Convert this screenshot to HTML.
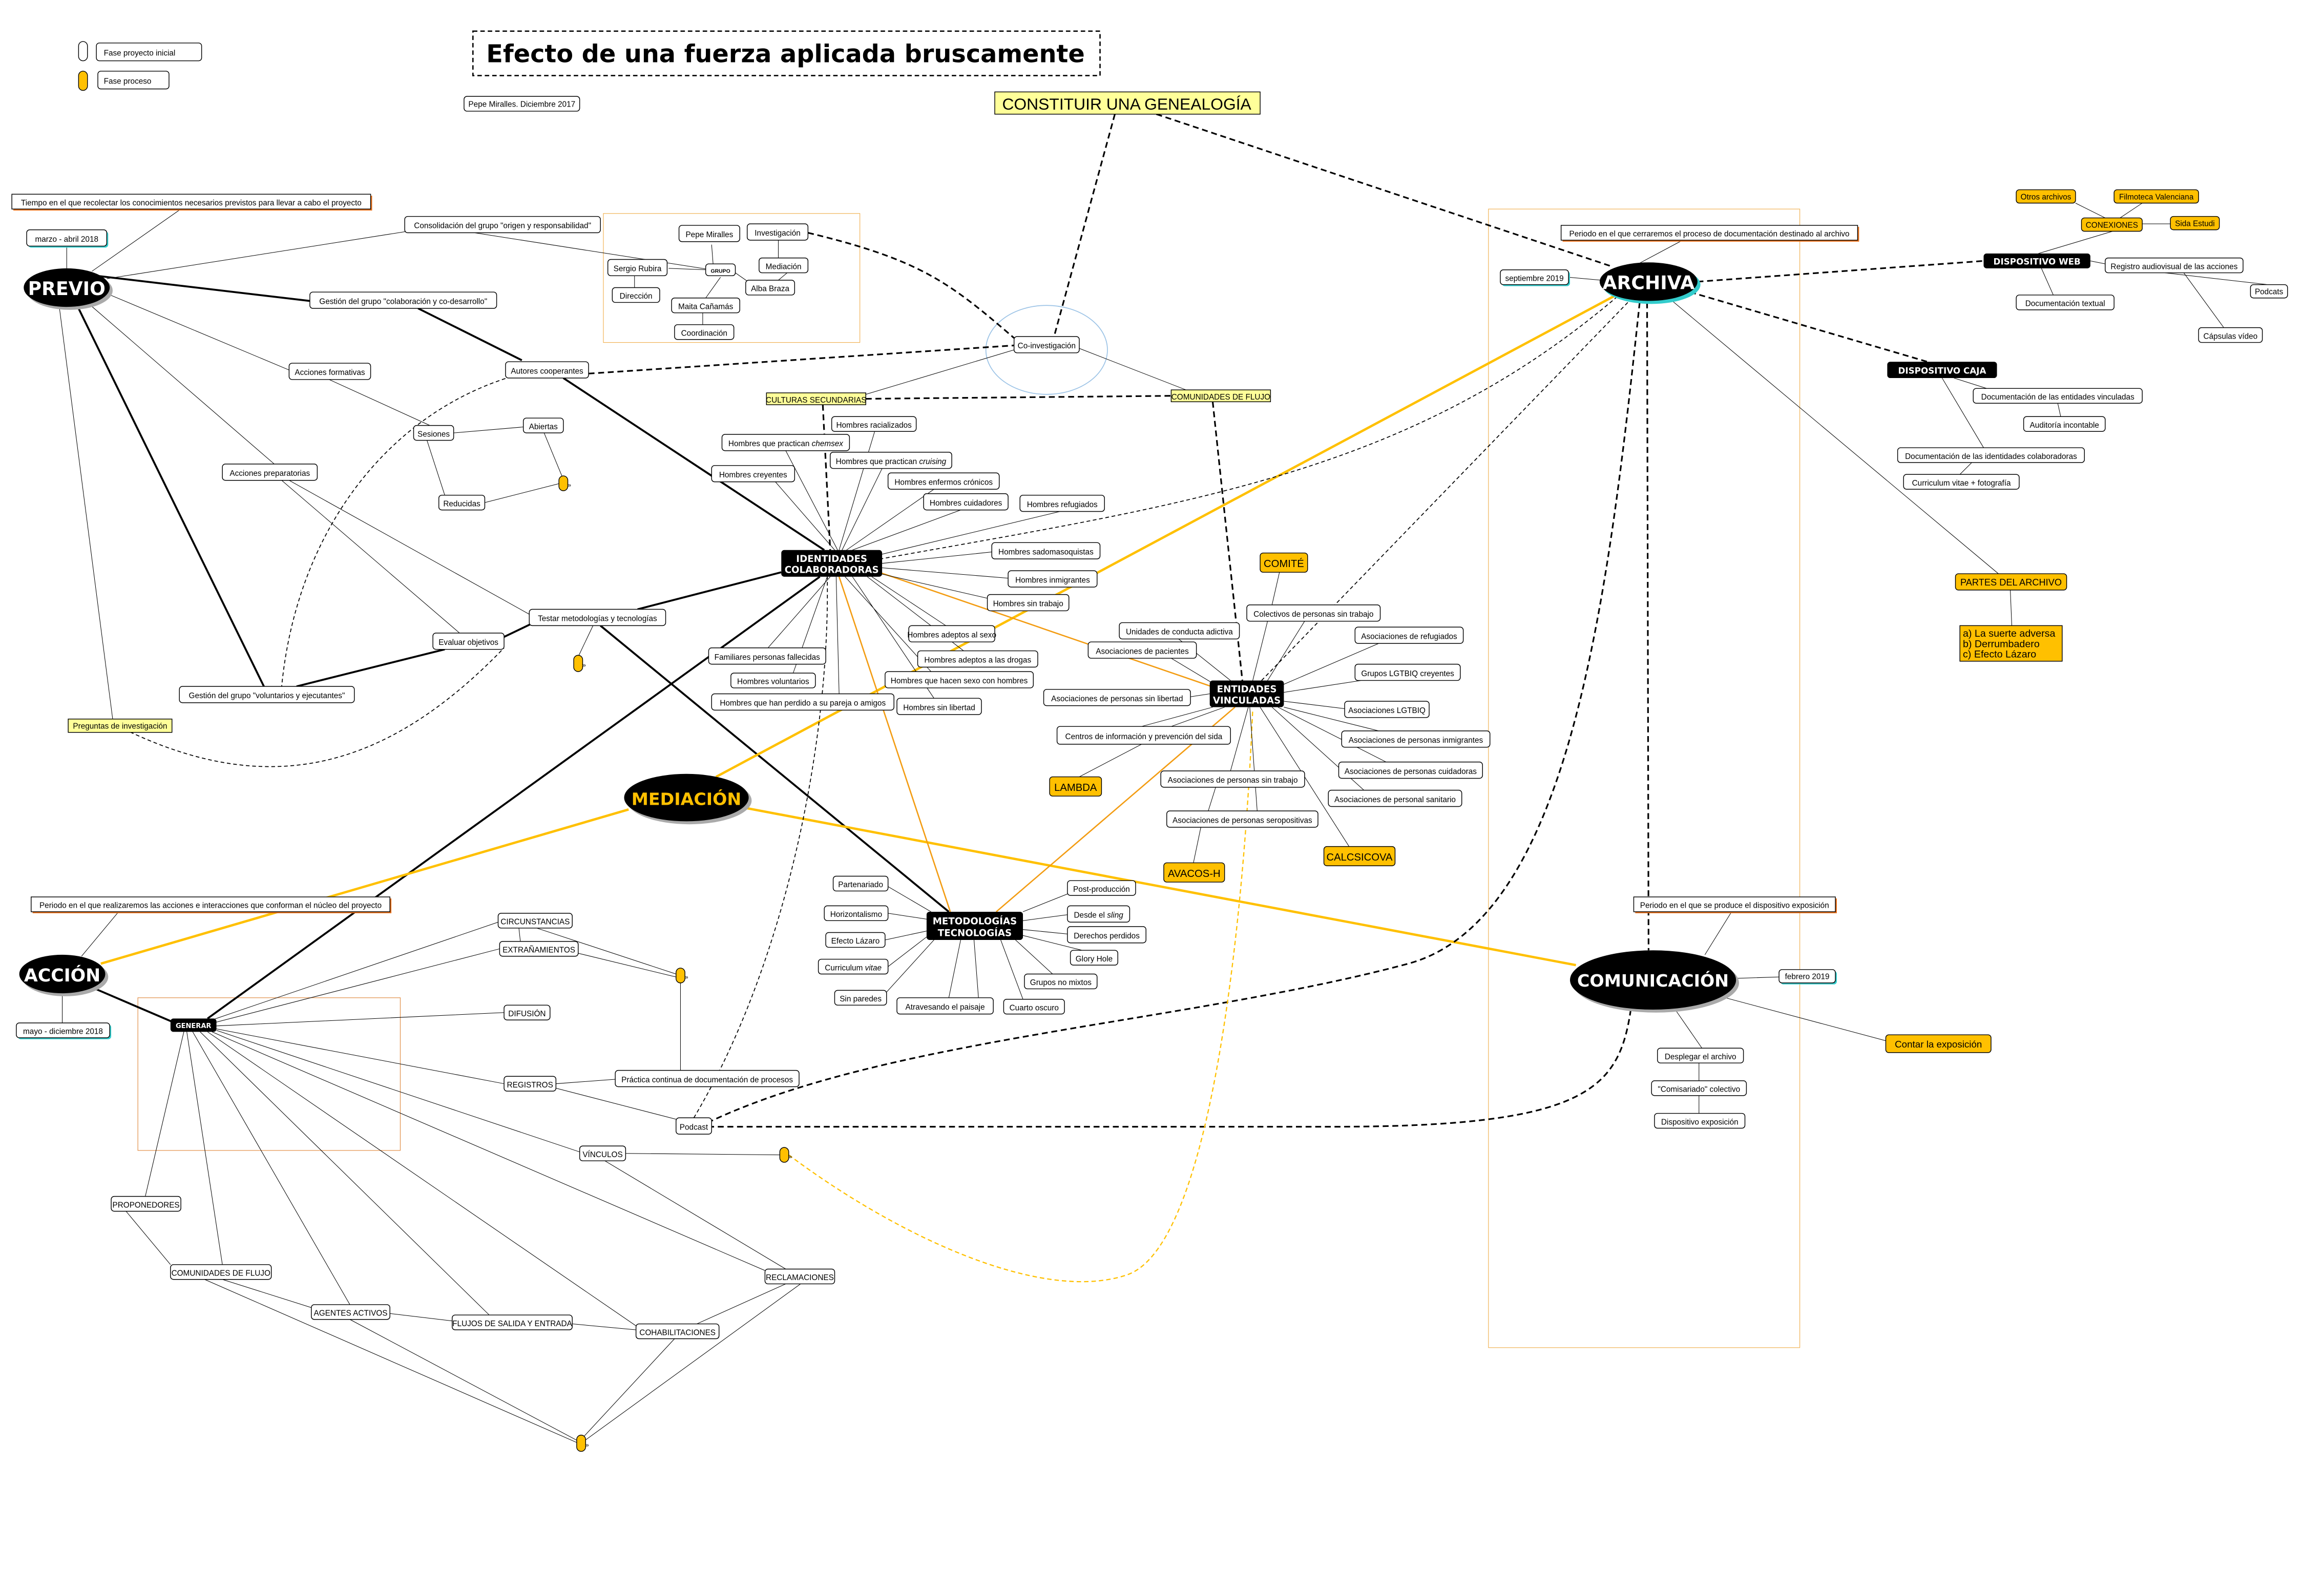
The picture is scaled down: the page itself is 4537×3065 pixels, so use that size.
<!DOCTYPE html>
<html><head><meta charset="utf-8"><style>
html,body{margin:0;padding:0;background:#fff}
svg{display:block}
text{font-family:"Liberation Sans Narrow","Liberation Sans","DejaVu Sans Condensed",sans-serif;font-size:5.3px;fill:#000}
.b{fill:#fff;stroke:#000;stroke-width:0.5}
.y{fill:#ffc000;stroke:#000;stroke-width:0.5}
.ly{fill:#ffff99;stroke:#000;stroke-width:0.5}
.k{fill:#000}
.w{fill:#fff;font-weight:bold;font-family:"DejaVu Sans","Liberation Sans",sans-serif}
.t{stroke:#000;stroke-width:0.35;fill:none}
.T{stroke:#000;stroke-width:1.3;fill:none}
.d{stroke:#000;stroke-width:1.1;fill:none;stroke-dasharray:4 2.5}
.dt{stroke:#000;stroke-width:0.6;fill:none;stroke-dasharray:2.5 1.8}
.Y{stroke:#ffc000;stroke-width:1.6;fill:none}
.O{stroke:#f39c12;stroke-width:0.9;fill:none}
.yd{stroke:#ffc000;stroke-width:0.8;fill:none;stroke-dasharray:3 2}
</style></head><body>
<svg xmlns="http://www.w3.org/2000/svg" width="4537" height="3065" viewBox="0 0 1567 1059" preserveAspectRatio="xMinYMin meet">
<rect width="1567" height="1059" fill="#fff"/>

<!-- frames -->
<rect x="407" y="144" width="173" height="87" fill="none" stroke="#f0b050" stroke-width="0.4"/>
<rect x="93" y="673" width="177" height="103" fill="none" stroke="#e08a40" stroke-width="0.4"/>
<rect x="1004" y="141" width="210" height="768" fill="none" stroke="#f0b050" stroke-width="0.4"/>
<ellipse cx="706" cy="236" rx="41" ry="30" fill="none" stroke="#9cc3e6" stroke-width="0.6"/>

<!-- ===== connectors ===== -->
<path class="T" d="M65,186 L209,203"/>
<path class="T" d="M282,208 L352,243"/>
<path class="T" d="M380,255 L556,371"/>
<path class="T" d="M52,206 L178,463"/>
<path class="T" d="M200,463 L300,438"/>
<path class="T" d="M335,432 L360,420"/>
<path class="T" d="M430,411 L527,386"/>
<path class="T" d="M405,422 L640,615"/>
<path class="T" d="M62,666 L118,690"/>
<path class="T" d="M140,687 L553,389"/>

<path class="Y" d="M68,650 L424,546"/>
<path class="Y" d="M483,524 L1092,198"/>
<path class="Y" d="M503,545 L1063,651"/>

<path class="O" d="M593,386 L817,463"/>
<path class="O" d="M566,389 L641,615"/>
<path class="O" d="M833,477 L672,615"/>

<path class="d" d="M752,77 L711,227"/>
<path class="d" d="M780,77 L1088,180"/>
<path class="d" d="M584,269 L790,267"/>
<path class="d" d="M555,273 L560,371"/>
<path class="d" d="M818,271 L838,459"/>
<path class="d" d="M1145,190 L1338,176"/>
<path class="d" d="M1140,197 L1300,244"/>
<path class="d" d="M1111,204 L1112,641"/>
<path class="d" d="M545,157 C620,175 640,190 684,228"/>
<path class="d" d="M397,252 L684,233"/>
<path class="d" d="M1100,681 C1092,735 1070,760 900,760 L480,760"/>
<path class="d" d="M1106,204 C1085,400 1060,620 950,650 C800,690 600,700 480,756"/>
<path class="dt" d="M1091,200 C950,320 800,340 594,377"/>
<path class="dt" d="M1098,204 L850,460"/>
<path class="dt" d="M468,754 C530,650 560,500 558,389"/>
<path class="dt" d="M345,254 C260,280 200,360 190,463"/>
<path class="dt" d="M80,490 C180,540 260,520 340,437"/>
<path class="yd" d="M532,779 C600,830 700,880 760,860 C820,840 840,600 845,478"/>

<path class="t" d="M62,183 L122,141 M45,181 L45,166 M72,188 L275,156 M72,198 L196,250 M60,205 L185,313 M40,207 L76,485"/>
<path class="t" d="M320,157 L480,182 M451,181 L477,182 M428,186 L428,194 M480,165 L481,178 M486,187 L476,201 M474,211 L474,219 M496,184 L506,191 M525,162 L525,174 M531,184 L525,189"/>
<path class="t" d="M222,256 L290,287 M306,292 L353,288 M288,297 L300,334 M367,292 L379,321 M327,339 L378,326"/>
<path class="t" d="M190,324 L310,427 M195,324 L360,416 M400,422 L390,443"/>
<path class="t" d="M684,236 L584,266 M728,235 L800,263"/>
<g class="t">
<path d="M566,371 L590,291 M565,371 L530,304 M563,371 L523,325 M568,371 L595,316 M571,371 L630,330 M575,371 L648,344 M590,375 L715,345 M595,380 L672,372 M595,383 L680,390 M594,387 L668,404 M588,389 L638,422 M585,389 L650,439 M560,389 L518,437 M558,389 L535,454 M564,389 L566,468 M570,389 L628,453 M575,389 L630,471"/>
</g>
<g class="t">
<path d="M866,373 L858,408 M845,459 L855,419 M855,459 L880,419 M830,459 L795,431 M820,462 L790,444 M816,468 L803,470 M818,477 L770,490 M826,477 L790,490 M865,462 L930,434 M866,467 L918,459 M866,473 L907,478 M866,477 L930,493 M862,477 L935,514 M858,477 L920,533 M850,477 L910,571 M842,477 L830,520 M843,477 L848,547 M770,502 L728,524 M820,531 L815,547 M810,558 L805,582"/>
</g>
<g class="t">
<path d="M599,598 L628,615 M599,616 L625,620 M597,634 L625,628 M599,652 L625,632 M590,678 L630,634 M640,673 L648,634 M660,673 L657,634 M690,674 L675,634 M710,657 L685,634 M730,641 L690,631 M720,630 L690,627 M720,617 L690,621 M720,603 L690,615"/>
</g>
<g class="t">
<path d="M55,645 L80,615 M42,670 L42,690"/>
<path d="M140,689 L336,622 M140,691 L337,640 M146,692 L340,683 M146,694 L340,731 M146,695 L391,777 M143,696 L516,857 M140,696 L430,895 M135,696 L330,887 M130,696 L236,880 M126,696 L150,853 M124,696 L98,807"/>
<path d="M350,626 L351,635 M362,626 L456,657 M390,643 L456,659 M459,663 L459,722 M375,731 L415,728 M375,734 L460,756 M422,778 L526,779 M408,783 L530,856 M85,817 L115,853 M150,863 L210,882 M138,863 L389,973 M236,890 L390,972 M263,886 L305,891 M386,893 L429,897 M455,903 L391,972 M530,866 L470,893 M540,866 L394,972"/>
</g>
<g class="t">
<path d="M1105,178 L1135,162 M1058,187 L1080,189 M1128,203 L1348,387 M1356,398 L1357,422 M1375,171 L1425,156 M1410,176 L1420,178 M1377,181 L1385,199 M1420,147 L1400,137 M1430,147 L1445,137 M1445,151 L1464,151 M1460,184 L1530,192 M1473,184 L1500,221 M1318,255 L1340,262 M1310,255 L1338,302 M1388,272 L1390,281 M1330,312 L1322,320"/>
<path d="M1150,644 L1168,615 M1168,660 L1200,659 M1160,672 L1272,702 M1130,681 L1148,707 M1146,717 L1146,729 M1146,739 L1146,751"/>
</g>

<!-- ===== nodes ===== -->
<rect x="53" y="28" width="6" height="13" rx="3" class="b"/>
<rect x="65" y="29" width="71" height="12" rx="2" class="b"/><text x="70" y="37.5">Fase proyecto inicial</text>
<rect x="53" y="48" width="6" height="13" rx="3" class="y"/>
<rect x="66" y="48" width="48" height="12" rx="2" class="b"/><text x="70" y="56.5">Fase proceso</text>

<rect x="319" y="21" width="423" height="30" fill="none" stroke="#000" stroke-width="0.9" stroke-dasharray="3 2"/>
<text x="328" y="42" style="font-family:'DejaVu Sans','Liberation Sans',sans-serif;font-weight:bold;font-size:16.5px">Efecto de una fuerza aplicada bruscamente</text>
<rect x="313" y="65" width="78" height="10" rx="2" class="b"/><text x="352" y="72" text-anchor="middle">Pepe Miralles. Diciembre 2017</text>
<rect x="671" y="62" width="179" height="15" class="ly"/><text x="760" y="74" text-anchor="middle" style="font-size:11px;font-family:'Liberation Sans',sans-serif">CONSTITUIR UNA GENEALOGÍA</text>

<rect x="9" y="132" width="242" height="10" fill="#e8701a"/>
<rect x="8" y="131" width="242" height="10" class="b"/><text x="129" y="138.5" text-anchor="middle">Tiempo en el que recolectar los conocimientos necesarios previstos para llevar a cabo el proyecto</text>
<rect x="19" y="156" width="54" height="11" rx="2" fill="#3cc"/>
<rect x="18" y="155" width="54" height="11" rx="2" class="b"/><text x="45" y="163" text-anchor="middle">marzo - abril 2018</text>
<ellipse cx="47" cy="196" rx="29" ry="13" fill="#aaa"/>
<ellipse cx="45" cy="194" rx="29" ry="13" class="k"/><text x="45" y="199" text-anchor="middle" class="w" style="font-size:12.5px">PREVIO</text>
<rect x="273" y="146" width="132" height="11" rx="2" class="b"/><text x="339" y="154" text-anchor="middle">Consolidación del grupo "origen y responsabilidad"</text>
<rect x="209" y="197" width="126" height="11" rx="2" class="b"/><text x="272" y="205" text-anchor="middle">Gestión del grupo "colaboración y co-desarrollo"</text>
<rect x="458" y="152" width="41" height="11" rx="2" class="b"/><text x="478.5" y="160" text-anchor="middle">Pepe Miralles</text>
<rect x="504" y="151" width="41" height="11" rx="2" class="b"/><text x="524.5" y="159" text-anchor="middle">Investigación</text>
<rect x="476" y="178" width="20" height="8" rx="2" class="b"/><text x="486" y="184" text-anchor="middle" style="font-size:3.6px;font-weight:bold">GRUPO</text>
<rect x="410" y="175" width="40" height="11" rx="2" class="b"/><text x="430" y="183" text-anchor="middle">Sergio Rubira</text>
<rect x="512" y="174" width="33" height="10" rx="2" class="b"/><text x="528.5" y="181.5" text-anchor="middle">Mediación</text>
<rect x="503" y="189" width="33" height="10" rx="2" class="b"/><text x="519.5" y="196.5" text-anchor="middle">Alba Braza</text>
<rect x="413" y="194" width="32" height="10" rx="2" class="b"/><text x="429" y="201.5" text-anchor="middle">Dirección</text>
<rect x="453" y="201" width="46" height="10" rx="2" class="b"/><text x="476" y="208.5" text-anchor="middle">Maita Cañamás</text>
<rect x="455" y="219" width="40" height="10" rx="2" class="b"/><text x="475" y="226.5" text-anchor="middle">Coordinación</text>
<rect x="195" y="245" width="55" height="11" rx="2" class="b"/><text x="222.5" y="253" text-anchor="middle">Acciones formativas</text>
<rect x="341" y="244" width="56" height="11" rx="2" class="b"/><text x="369" y="252" text-anchor="middle">Autores cooperantes</text>
<rect x="684" y="227" width="44" height="11" rx="2" class="b"/><text x="706" y="235" text-anchor="middle">Co-investigación</text>
<rect x="517" y="265" width="67" height="8" class="ly"/><text x="550.5" y="271.5" text-anchor="middle">CULTURAS SECUNDARIAS</text>
<rect x="790" y="263" width="67" height="8" class="ly"/><text x="823.5" y="269.5" text-anchor="middle">COMUNIDADES DE FLUJO</text>
<rect x="279" y="287" width="27" height="10" rx="2" class="b"/><text x="292.5" y="294.5" text-anchor="middle">Sesiones</text>
<rect x="353" y="282" width="27" height="10" rx="2" class="b"/><text x="366.5" y="289.5" text-anchor="middle">Abiertas</text>
<rect x="296" y="334" width="31" height="10" rx="2" class="b"/><text x="311.5" y="341.5" text-anchor="middle">Reducidas</text>
<rect x="377" y="321" width="6" height="10" rx="3" class="y"/><text x="383" y="328.5" style="font-size:4px">»</text>
<rect x="150" y="313" width="64" height="11" rx="2" class="b"/><text x="182" y="321" text-anchor="middle">Acciones preparatorias</text>
<rect x="357" y="411" width="92" height="11" rx="2" class="b"/><text x="403" y="419" text-anchor="middle">Testar metodologías y tecnologías</text>
<rect x="292" y="427" width="48" height="11" rx="2" class="b"/><text x="316" y="435" text-anchor="middle">Evaluar objetivos</text>
<rect x="121" y="463" width="118" height="11" rx="2" class="b"/><text x="180" y="471" text-anchor="middle">Gestión del grupo "voluntarios y ejecutantes"</text>
<rect x="46" y="485" width="70" height="9" class="ly"/><text x="81" y="491.5" text-anchor="middle">Preguntas de investigación</text>
<rect x="387" y="442" width="6" height="11" rx="3" class="y"/><text x="393" y="450" style="font-size:4px">»</text>

<rect x="527" y="371" width="68" height="18" rx="2" class="k"/>
<text x="561" y="379" text-anchor="middle" class="w" style="font-size:6.3px">IDENTIDADES</text>
<text x="561" y="386.5" text-anchor="middle" class="w" style="font-size:6.3px">COLABORADORAS</text>
<g>
<rect x="561" y="281" width="57" height="10" rx="2" class="b"/><text x="589.5" y="288.5" text-anchor="middle">Hombres racializados</text>
<rect x="487" y="293" width="86" height="11" rx="2" class="b"/><text x="530" y="301" text-anchor="middle">Hombres que practican <tspan font-style="italic">chemsex</tspan></text>
<rect x="560" y="305" width="82" height="11" rx="2" class="b"/><text x="601" y="313" text-anchor="middle">Hombres que practican <tspan font-style="italic">cruising</tspan></text>
<rect x="480" y="314" width="56" height="11" rx="2" class="b"/><text x="508" y="322" text-anchor="middle">Hombres creyentes</text>
<rect x="599" y="319" width="75" height="11" rx="2" class="b"/><text x="636.5" y="327" text-anchor="middle">Hombres enfermos crónicos</text>
<rect x="623" y="333" width="57" height="11" rx="2" class="b"/><text x="651.5" y="341" text-anchor="middle">Hombres cuidadores</text>
<rect x="688" y="334" width="57" height="11" rx="2" class="b"/><text x="716.5" y="342" text-anchor="middle">Hombres refugiados</text>
<rect x="669" y="366" width="73" height="11" rx="2" class="b"/><text x="705.5" y="374" text-anchor="middle">Hombres sadomasoquistas</text>
<rect x="680" y="385" width="60" height="11" rx="2" class="b"/><text x="710" y="393" text-anchor="middle">Hombres inmigrantes</text>
<rect x="666" y="401" width="55" height="11" rx="2" class="b"/><text x="693.5" y="409" text-anchor="middle">Hombres sin trabajo</text>
<rect x="613" y="422" width="58" height="11" rx="2" class="b"/><text x="642" y="430" text-anchor="middle">Hombres adeptos al sexo</text>
<rect x="619" y="439" width="81" height="11" rx="2" class="b"/><text x="659.5" y="447" text-anchor="middle">Hombres adeptos a las drogas</text>
<rect x="478" y="437" width="79" height="11" rx="2" class="b"/><text x="517.5" y="445" text-anchor="middle">Familiares personas fallecidas</text>
<rect x="493" y="454" width="57" height="10" rx="2" class="b"/><text x="521.5" y="461.5" text-anchor="middle">Hombres voluntarios</text>
<rect x="597" y="453" width="100" height="11" rx="2" class="b"/><text x="647" y="461" text-anchor="middle">Hombres que hacen sexo con hombres</text>
<rect x="480" y="468" width="123" height="11" rx="2" class="b"/><text x="541.5" y="476" text-anchor="middle">Hombres que han perdido a su pareja o amigos</text>
<rect x="605" y="471" width="57" height="11" rx="2" class="b"/><text x="633.5" y="479" text-anchor="middle">Hombres sin libertad</text>
</g>

<rect x="850" y="373" width="32" height="13" rx="2" class="y"/><text x="866" y="382.5" text-anchor="middle" style="font-size:7px">COMITÉ</text>
<rect x="841" y="408" width="90" height="11" rx="2" class="b"/><text x="886" y="416" text-anchor="middle">Colectivos de personas sin trabajo</text>
<rect x="755" y="420" width="81" height="11" rx="2" class="b"/><text x="795.5" y="428" text-anchor="middle">Unidades de conducta adictiva</text>
<rect x="734" y="433" width="73" height="11" rx="2" class="b"/><text x="770.5" y="441" text-anchor="middle">Asociaciones de pacientes</text>
<rect x="914" y="423" width="73" height="11" rx="2" class="b"/><text x="950.5" y="431" text-anchor="middle">Asociaciones de refugiados</text>
<rect x="914" y="448" width="71" height="11" rx="2" class="b"/><text x="949.5" y="456" text-anchor="middle">Grupos LGTBIQ creyentes</text>
<rect x="704" y="465" width="99" height="11" rx="2" class="b"/><text x="753.5" y="473" text-anchor="middle">Asociaciones de personas sin libertad</text>
<rect x="816" y="459" width="50" height="18" rx="2" class="k"/>
<text x="841" y="467" text-anchor="middle" class="w" style="font-size:6.3px">ENTIDADES</text>
<text x="841" y="474.5" text-anchor="middle" class="w" style="font-size:6.3px">VINCULADAS</text>
<rect x="907" y="473" width="57" height="11" rx="2" class="b"/><text x="935.5" y="481" text-anchor="middle">Asociaciones LGTBIQ</text>
<rect x="713" y="490" width="117" height="12" rx="2" class="b"/><text x="771.5" y="498.5" text-anchor="middle">Centros de información y prevención del sida</text>
<rect x="905" y="493" width="100" height="11" rx="2" class="b"/><text x="955" y="501" text-anchor="middle">Asociaciones de personas inmigrantes</text>
<rect x="708" y="524" width="35" height="13" rx="2" class="y"/><text x="725.5" y="533.5" text-anchor="middle" style="font-size:7px">LAMBDA</text>
<rect x="903" y="514" width="97" height="11" rx="2" class="b"/><text x="951.5" y="522" text-anchor="middle">Asociaciones de personas cuidadoras</text>
<rect x="783" y="520" width="97" height="11" rx="2" class="b"/><text x="831.5" y="528" text-anchor="middle">Asociaciones de personas sin trabajo</text>
<rect x="896" y="533" width="90" height="11" rx="2" class="b"/><text x="941" y="541" text-anchor="middle">Asociaciones de personal sanitario</text>
<rect x="787" y="547" width="102" height="11" rx="2" class="b"/><text x="838" y="555" text-anchor="middle">Asociaciones de personas seropositivas</text>
<rect x="893" y="571" width="48" height="13" rx="2" class="y"/><text x="917" y="580.5" text-anchor="middle" style="font-size:7px">CALCSICOVA</text>
<rect x="785" y="582" width="41" height="13" rx="2" class="y"/><text x="805.5" y="591.5" text-anchor="middle" style="font-size:7px">AVACOS-H</text>

<ellipse cx="465" cy="540" rx="42" ry="16" fill="#aaa"/>
<ellipse cx="463" cy="538" rx="42" ry="16" class="k"/><text x="463" y="543" text-anchor="middle" style="font-family:'DejaVu Sans',sans-serif;font-weight:bold;font-size:11.5px;fill:#ffc000">MEDIACIÓN</text>

<rect x="625" y="615" width="65" height="19" rx="2" class="k"/>
<text x="657.5" y="623.5" text-anchor="middle" class="w" style="font-size:6.3px">METODOLOGÍAS</text>
<text x="657.5" y="631.5" text-anchor="middle" class="w" style="font-size:6.3px">TECNOLOGÍAS</text>
<rect x="562" y="591" width="37" height="10" rx="2" class="b"/><text x="580.5" y="598.5" text-anchor="middle">Partenariado</text>
<rect x="556" y="611" width="43" height="10" rx="2" class="b"/><text x="577.5" y="618.5" text-anchor="middle">Horizontalismo</text>
<rect x="557" y="629" width="40" height="10" rx="2" class="b"/><text x="577" y="636.5" text-anchor="middle">Efecto Lázaro</text>
<rect x="552" y="647" width="47" height="10" rx="2" class="b"/><text x="575.5" y="654.5" text-anchor="middle">Curriculum <tspan font-style="italic">vitae</tspan></text>
<rect x="563" y="668" width="35" height="10" rx="2" class="b"/><text x="580.5" y="675.5" text-anchor="middle">Sin paredes</text>
<rect x="605" y="673" width="65" height="11" rx="2" class="b"/><text x="637.5" y="681" text-anchor="middle">Atravesando el paisaje</text>
<rect x="677" y="674" width="41" height="10" rx="2" class="b"/><text x="697.5" y="681.5" text-anchor="middle">Cuarto oscuro</text>
<rect x="691" y="657" width="49" height="10" rx="2" class="b"/><text x="715.5" y="664.5" text-anchor="middle">Grupos no mixtos</text>
<rect x="722" y="641" width="32" height="10" rx="2" class="b"/><text x="738" y="648.5" text-anchor="middle">Glory Hole</text>
<rect x="720" y="625" width="53" height="11" rx="2" class="b"/><text x="746.5" y="633" text-anchor="middle">Derechos perdidos</text>
<rect x="720" y="611" width="42" height="11" rx="2" class="b"/><text x="741" y="619" text-anchor="middle">Desde el <tspan font-style="italic">sling</tspan></text>
<rect x="720" y="594" width="46" height="10" rx="2" class="b"/><text x="743" y="601.5" text-anchor="middle">Post-producción</text>

<rect x="22" y="606" width="242" height="10" fill="#e8701a"/>
<rect x="21" y="605" width="242" height="10" class="b"/><text x="142" y="612.5" text-anchor="middle">Periodo en el que realizaremos las acciones e interacciones que conforman el núcleo del proyecto</text>
<ellipse cx="44" cy="659" rx="29" ry="13" fill="#aaa"/>
<ellipse cx="42" cy="657" rx="29" ry="13" class="k"/><text x="42" y="662" text-anchor="middle" class="w" style="font-size:12px">ACCIÓN</text>
<rect x="12" y="691" width="63" height="10" rx="2" fill="#3cc"/>
<rect x="11" y="690" width="63" height="10" rx="2" class="b"/><text x="42.5" y="697.5" text-anchor="middle">mayo - diciembre 2018</text>
<rect x="115" y="687" width="31" height="9" rx="2" class="k"/><text x="130.5" y="693.5" text-anchor="middle" class="w" style="font-size:4.5px">GENERAR</text>
<rect x="336" y="616" width="50" height="10" rx="2" class="b"/><text x="361" y="623.5" text-anchor="middle">CIRCUNSTANCIAS</text>
<rect x="337" y="635" width="53" height="10" rx="2" class="b"/><text x="363.5" y="642.5" text-anchor="middle">EXTRAÑAMIENTOS</text>
<rect x="340" y="678" width="31" height="10" rx="2" class="b"/><text x="355.5" y="685.5" text-anchor="middle">DIFUSIÓN</text>
<rect x="340" y="726" width="35" height="10" rx="2" class="b"/><text x="357.5" y="733.5" text-anchor="middle">REGISTROS</text>
<rect x="415" y="722" width="124" height="11" rx="2" class="b"/><text x="477" y="730" text-anchor="middle">Práctica continua de documentación de procesos</text>
<rect x="456" y="754" width="24" height="11" rx="2" class="b"/><text x="468" y="762" text-anchor="middle">Podcast</text>
<rect x="391" y="773" width="31" height="10" rx="2" class="b"/><text x="406.5" y="780.5" text-anchor="middle">VÍNCULOS</text>
<rect x="456" y="653" width="6" height="10" rx="3" class="y"/><text x="462" y="660.5" style="font-size:4px">»</text>
<rect x="526" y="774" width="6" height="10" rx="3" class="y"/><text x="532" y="781.5" style="font-size:4px">»</text>
<rect x="389" y="968" width="6" height="11" rx="3" class="y"/><text x="395" y="976" style="font-size:4px">»</text>
<rect x="75" y="807" width="47" height="10" rx="2" class="b"/><text x="98.5" y="814.5" text-anchor="middle">PROPONEDORES</text>
<rect x="115" y="853" width="68" height="10" rx="2" class="b"/><text x="149" y="860.5" text-anchor="middle">COMUNIDADES DE FLUJO</text>
<rect x="210" y="880" width="53" height="10" rx="2" class="b"/><text x="236.5" y="887.5" text-anchor="middle">AGENTES ACTIVOS</text>
<rect x="305" y="887" width="81" height="10" rx="2" class="b"/><text x="345.5" y="894.5" text-anchor="middle">FLUJOS DE SALIDA Y ENTRADA</text>
<rect x="429" y="893" width="56" height="10" rx="2" class="b"/><text x="457" y="900.5" text-anchor="middle">COHABILITACIONES</text>
<rect x="516" y="856" width="47" height="10" rx="2" class="b"/><text x="539.5" y="863.5" text-anchor="middle">RECLAMACIONES</text>

<rect x="1054" y="153" width="200" height="10" fill="#e8701a"/>
<rect x="1053" y="152" width="200" height="10" class="b"/><text x="1153" y="159.5" text-anchor="middle">Periodo en el que cerraremos el proceso de documentación destinado al archivo</text>
<rect x="1013" y="183" width="46" height="10" rx="2" fill="#3cc"/>
<rect x="1012" y="182" width="46" height="10" rx="2" class="b"/><text x="1035" y="189.5" text-anchor="middle">septiembre 2019</text>
<ellipse cx="1114" cy="192" rx="33" ry="13" fill="#3cc"/>
<ellipse cx="1112" cy="190" rx="33" ry="13" class="k"/><text x="1112" y="195" text-anchor="middle" class="w" style="font-size:12.5px">ARCHIVA</text>
<rect x="1360" y="128" width="40" height="9" rx="2" class="y"/><text x="1380" y="134.5" text-anchor="middle">Otros archivos</text>
<rect x="1426" y="128" width="57" height="9" rx="2" class="y"/><text x="1454.5" y="134.5" text-anchor="middle">Filmoteca Valenciana</text>
<rect x="1404" y="147" width="41" height="9" rx="2" class="y"/><text x="1424.5" y="153.5" text-anchor="middle">CONEXIONES</text>
<rect x="1464" y="146" width="33" height="9" rx="2" class="y"/><text x="1480.5" y="152.5" text-anchor="middle">Sida Estudi</text>
<rect x="1338" y="171" width="72" height="10" rx="2" class="k"/><text x="1374" y="178.5" text-anchor="middle" class="w" style="font-size:5.8px">DISPOSITIVO WEB</text>
<rect x="1420" y="174" width="93" height="10" rx="2" class="b"/><text x="1466.5" y="181.5" text-anchor="middle">Registro audiovisual de las acciones</text>
<rect x="1518" y="192" width="25" height="9" rx="2" class="b"/><text x="1530.5" y="198.5" text-anchor="middle">Podcats</text>
<rect x="1360" y="199" width="66" height="10" rx="2" class="b"/><text x="1393" y="206.5" text-anchor="middle">Documentación textual</text>
<rect x="1483" y="221" width="43" height="10" rx="2" class="b"/><text x="1504.5" y="228.5" text-anchor="middle">Cápsulas vídeo</text>
<rect x="1273" y="244" width="74" height="11" rx="2" class="k"/><text x="1310" y="252" text-anchor="middle" class="w" style="font-size:5.8px">DISPOSITIVO CAJA</text>
<rect x="1331" y="262" width="114" height="10" rx="2" class="b"/><text x="1388" y="269.5" text-anchor="middle">Documentación de las entidades vinculadas</text>
<rect x="1365" y="281" width="55" height="10" rx="2" class="b"/><text x="1392.5" y="288.5" text-anchor="middle">Auditoría incontable</text>
<rect x="1280" y="302" width="126" height="10" rx="2" class="b"/><text x="1343" y="309.5" text-anchor="middle">Documentación de las identidades colaboradoras</text>
<rect x="1284" y="320" width="78" height="10" rx="2" class="b"/><text x="1323" y="327.5" text-anchor="middle">Curriculum vitae + fotografía</text>
<rect x="1319" y="387" width="75" height="11" rx="2" class="y"/><text x="1356.5" y="395" text-anchor="middle" style="font-size:6.3px">PARTES DEL ARCHIVO</text>
<rect x="1322" y="422" width="69" height="24" class="y"/>
<text x="1324" y="429.5" style="font-size:6.8px">a) La suerte adversa</text>
<text x="1324" y="436.5" style="font-size:6.8px">b) Derrumbadero</text>
<text x="1324" y="443.5" style="font-size:6.8px">c) Efecto Lázaro</text>

<rect x="1103" y="606" width="136" height="10" fill="#e8701a"/>
<rect x="1102" y="605" width="136" height="10" class="b"/><text x="1170" y="612.5" text-anchor="middle">Periodo en el que se produce el dispositivo exposición</text>
<ellipse cx="1117" cy="663" rx="56" ry="20" fill="#aaa"/>
<ellipse cx="1115" cy="661" rx="56" ry="20" class="k"/><text x="1115" y="665.5" text-anchor="middle" class="w" style="font-size:11.5px">COMUNICACIÓN</text>
<rect x="1201" y="655" width="38" height="9" rx="2" fill="#3cc"/>
<rect x="1200" y="654" width="38" height="9" rx="2" class="b"/><text x="1219" y="660.5" text-anchor="middle">febrero 2019</text>
<rect x="1272" y="698" width="71" height="12" rx="2" class="y"/><text x="1307.5" y="706.5" text-anchor="middle" style="font-size:6.5px">Contar la exposición</text>
<rect x="1118" y="707" width="58" height="10" rx="2" class="b"/><text x="1147" y="714.5" text-anchor="middle">Desplegar el archivo</text>
<rect x="1114" y="729" width="64" height="10" rx="2" class="b"/><text x="1146" y="736.5" text-anchor="middle">"Comisariado" colectivo</text>
<rect x="1116" y="751" width="61" height="10" rx="2" class="b"/><text x="1146.5" y="758.5" text-anchor="middle">Dispositivo exposición</text>
</svg>
</body></html>
